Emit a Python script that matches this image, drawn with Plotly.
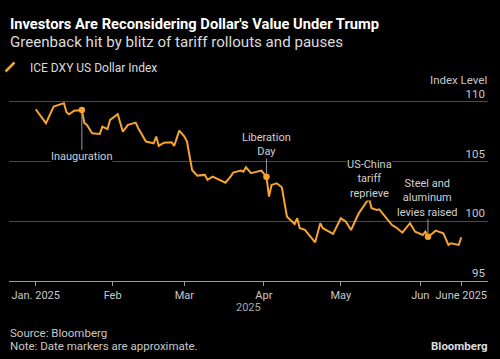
import plotly.graph_objects as go

# ---- data ----
dates = [
    "2025-01-02", "2025-01-06", "2025-01-09", "2025-01-13", "2025-01-14", "2025-01-15",
    "2025-01-17", "2025-01-20", "2025-01-21", "2025-01-22", "2025-01-24", "2025-01-27",
    "2025-01-28", "2025-01-30", "2025-01-31", "2025-02-03", "2025-02-05", "2025-02-07",
    "2025-02-10", "2025-02-11", "2025-02-14", "2025-02-17", "2025-02-18", "2025-02-19",
    "2025-02-21", "2025-02-24", "2025-02-25", "2025-02-27", "2025-03-01", "2025-03-02",
    "2025-03-04", "2025-03-06", "2025-03-09", "2025-03-10", "2025-03-12", "2025-03-14",
    "2025-03-17", "2025-03-19", "2025-03-20", "2025-03-23", "2025-03-24", "2025-03-25",
    "2025-03-27", "2025-03-31", "2025-04-02", "2025-04-03", "2025-04-04", "2025-04-06",
    "2025-04-08", "2025-04-10", "2025-04-13", "2025-04-14", "2025-04-15", "2025-04-17",
    "2025-04-21", "2025-04-23", "2025-04-24", "2025-04-28", "2025-05-01", "2025-05-03",
    "2025-05-05", "2025-05-08", "2025-05-12", "2025-05-13", "2025-05-15", "2025-05-16",
    "2025-05-21", "2025-05-22", "2025-05-23", "2025-05-25", "2025-05-28", "2025-05-30",
    "2025-06-02", "2025-06-03", "2025-06-04", "2025-06-05", "2025-06-07", "2025-06-10",
    "2025-06-12", "2025-06-13", "2025-06-16", "2025-06-17",
]
dxy = [
    109.39, 108.22, 109.61, 109.90, 109.14, 108.97,
    109.27, 109.33, 108.22, 108.08, 107.38, 107.32,
    107.93, 107.72, 108.50, 108.97, 107.51, 108.08,
    108.27, 107.80, 106.68, 106.54, 107.10, 106.32,
    106.59, 106.63, 106.32, 107.60, 107.10, 106.68,
    104.30, 103.83, 103.89, 103.47, 103.74, 103.55,
    103.24, 103.74, 104.08, 104.25, 104.16, 104.53,
    104.03, 104.25, 103.74, 102.07, 103.05, 103.19,
    102.85, 100.39, 99.78, 100.26, 99.42, 99.28,
    98.24, 99.84, 99.42, 98.94, 100.26, 99.97,
    99.27, 100.67, 101.93, 101.09, 100.95, 101.01,
    99.69, 99.55, 99.42, 99.05, 99.84, 99.13,
    98.86, 99.13, 98.71, 98.86, 99.22, 99.00,
    98.02, 98.16, 98.02, 98.66,
]

event_dates = ["2025-01-20", "2025-04-02", "2025-05-12", "2025-06-04"]
event_labels = ["Inauguration", "Liberation<br>Day", "US-China<br>tariff<br>reprieve",
                "Steel and<br>aluminum<br>levies raised"]

x_tickvals = ["2025-01-02", "2025-02-01", "2025-03-01", "2025-04-01", "2025-05-01",
              "2025-06-01", "2025-06-17"]
x_ticktext = ["Jan. 2025", "Feb", "Mar", "Apr", "May", "Jun", "June 2025"]
x_title = "2025"
y_tickvals = [95, 100, 105, 110]

series_name = "ICE DXY US Dollar Index"
title = "Investors Are Reconsidering Dollar's Value Under Trump"
subtitle = "Greenback hit by blitz of tariff rollouts and pauses"

# ---- style ----
ORANGE = "#F5A331"
BG = "#000000"
FONT = "Roboto"
W, H = 500, 359
ML, MR, MT, MB = 9, 12, 88, 78
PW, PH = W - ML - MR, H - MT - MB

def px(xp):
    return (xp - ML) / PW

def py(yp):
    return (H - MB - yp) / PH

event_values = [dxy[dates.index(d)] for d in event_dates]
event_offsets = [47, -32, -19, -39]

fig = go.Figure()
fig.add_trace(go.Scatter(
    x=dates, y=dxy, mode="lines", line=dict(color=ORANGE, width=2),
    showlegend=False, hoverinfo="skip"))
fig.add_trace(go.Scatter(
    x=event_dates, y=event_values, mode="markers",
    marker=dict(color=ORANGE, size=6.5), showlegend=False, hoverinfo="skip"))
# legend entry
fig.add_trace(go.Scatter(
    x=[None], y=[None], mode="markers", name=series_name,
    marker=dict(symbol="line-ne", size=9, color=ORANGE, line=dict(color=ORANGE, width=2.5))))

for d, v, lab, off in zip(event_dates, event_values, event_labels, event_offsets):
    fig.add_annotation(
        x=d, y=v, text=lab, showarrow=True, arrowhead=0, arrowwidth=1,
        arrowcolor="#9a9a9a", ax=0, ay=off, standoff=3, startstandoff=0,
        font=dict(family=FONT, size=11, color="#d0d0d0"), align="center",
        bgcolor=BG, borderpad=0)

# titles / footer
fig.add_annotation(xref="paper", yref="paper", x=px(8), y=py(24), xanchor="left",
                   yanchor="middle", text="<b>" + title + "</b>", showarrow=False,
                   font=dict(family=FONT, size=14.7, color="#ffffff"))
fig.add_annotation(xref="paper", yref="paper", x=px(8), y=py(42), xanchor="left",
                   yanchor="middle", text=subtitle, showarrow=False,
                   font=dict(family=FONT, size=15.1, color="#dcdcdc"))
fig.add_annotation(xref="paper", yref="paper", x=px(489), y=py(80), xanchor="right",
                   yanchor="middle", text="Index Level", showarrow=False,
                   font=dict(family=FONT, size=11.5, color="#c8c8c8"))
fig.add_annotation(xref="paper", yref="paper", x=px(248), y=py(307), xanchor="center",
                   yanchor="middle", text=x_title, showarrow=False,
                   font=dict(family=FONT, size=11, color="#a8a8a8"))
fig.add_annotation(xref="paper", yref="paper", x=px(8), y=py(333), xanchor="left",
                   yanchor="middle", text="Source: Bloomberg", showarrow=False,
                   font=dict(family=FONT, size=11.5, color="#c8c8c8"))
fig.add_annotation(xref="paper", yref="paper", x=px(8), y=py(346), xanchor="left",
                   yanchor="middle", text="Note: Date markers are approximate.", showarrow=False,
                   font=dict(family=FONT, size=11.5, color="#c8c8c8"))
fig.add_annotation(xref="paper", yref="paper", x=px(490), y=py(346), xanchor="right",
                   yanchor="middle", text="<b>Bloomberg</b>", showarrow=False,
                   font=dict(family=FONT, size=11.5, color="#dcdcdc"))

fig.update_layout(
    width=W, height=H, paper_bgcolor=BG, plot_bgcolor=BG,
    margin=dict(l=ML, r=MR, t=MT, b=MB, autoexpand=False),
    font=dict(family=FONT, size=11, color="#c8c8c8"),
    showlegend=True,
    legend=dict(x=px(-10), y=py(67), xanchor="left", yanchor="middle",
                bgcolor="rgba(0,0,0,0)", font=dict(family=FONT, size=12, color="#dcdcdc"),
                itemwidth=30),
    xaxis=dict(
        type="date", range=["2024-12-22 14:00", "2025-06-27 10:00"],
        tickvals=x_tickvals, ticktext=x_ticktext, showgrid=False,
        showline=True, linecolor="#9a9a9a", linewidth=1,
        ticks="outside", ticklen=4, tickcolor="#9a9a9a",
        tickfont=dict(family=FONT, size=11, color="#c8c8c8"),
        zeroline=False, fixedrange=True, automargin=False),
    yaxis=dict(
        range=[95, 111.17], side="right", tickvals=y_tickvals,
        ticklabelposition="inside top", ticklabeloverflow="allow", ticks="",
        showgrid=True, gridcolor="#4a4a4a", gridwidth=1,
        tickfont=dict(family=FONT, size=11.5, color="#c8c8c8"),
        zeroline=False, showline=False, fixedrange=True, automargin=False),
)

fig.write_html("out.html", config={"displayModeBar": False},
               post_script="document.body.style.margin='0';document.body.style.padding='0';")
